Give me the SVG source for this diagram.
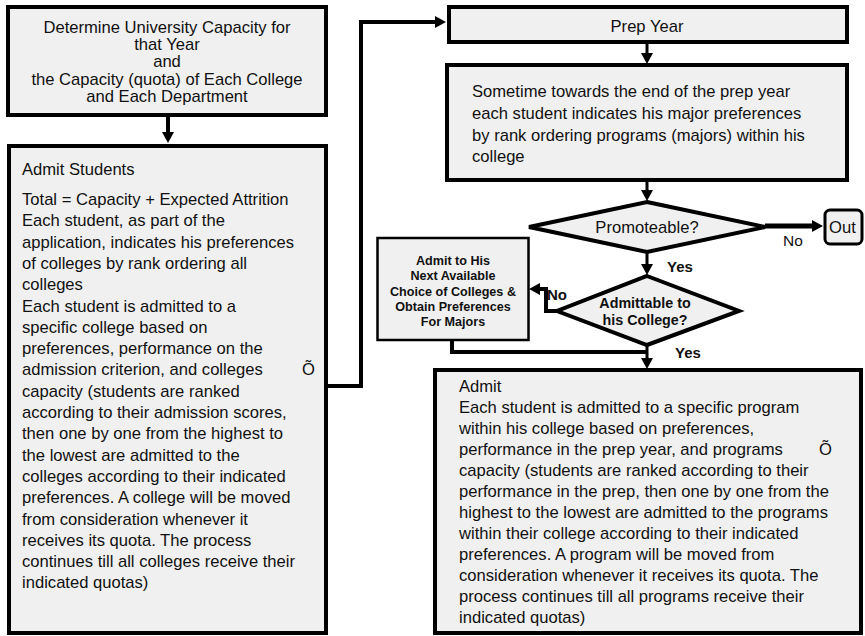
<svg xmlns="http://www.w3.org/2000/svg" width="865" height="636" viewBox="0 0 865 636">
<defs>
<style>
.box{fill:#f0f0f0;stroke:#000;stroke-width:4}
.thin{fill:#f0f0f0;stroke:#000;stroke-width:2.5}
.t{font-family:"Liberation Sans",Arial,Helvetica,sans-serif;font-size:16.6px;fill:#111}
.c{text-anchor:middle}
.b{font-family:"Liberation Sans",Arial,Helvetica,sans-serif;font-weight:bold;fill:#111}
.ln{fill:none;stroke:#000;stroke-width:4}
.ln3{fill:none;stroke:#000;stroke-width:3}
</style>
<marker id="ah" markerUnits="userSpaceOnUse" markerWidth="11" markerHeight="12" refX="1" refY="6" orient="auto">
<path d="M0,0 L11,6 L0,12 z" fill="#000"/>
</marker>
</defs>

<g id="connectors">
<path class="ln" d="M168,117 V133" marker-end="url(#ah)"/>
<path class="ln" d="M326,386 H361 V22 H436" marker-end="url(#ah)"/>
<path class="ln3" d="M647,44 V54" marker-end="url(#ah)"/>
<path class="ln3" d="M647,182 V191" marker-end="url(#ah)"/>
<path class="ln" style="stroke-width:5" d="M765,226 H813" marker-end="url(#ah)"/>
<path class="ln3" d="M647,252 V265" marker-end="url(#ah)"/>
<path class="ln" d="M557,311 H546 V289 H539" marker-end="url(#ah)"/>
<path class="ln" d="M452,340 V352 H647"/>
<path class="ln3" d="M647,345 V359" marker-end="url(#ah)"/>
<text class="t" x="783" y="246" style="font-size:15.5px">No</text>
<text class="b" x="667" y="272" style="font-size:15px">Yes</text>
<text class="b" x="547" y="300" style="font-size:15px">No</text>
<text class="b" x="675" y="358" style="font-size:15px">Yes</text>
</g>

<g id="n-capacity">
<rect class="box" x="8" y="7" width="318" height="108"/>
<text class="t c" x="167" y="33">Determine University Capacity for</text>
<text class="t c" x="167" y="50">that Year</text>
<text class="t c" x="167" y="67">and</text>
<text class="t c" x="167" y="85">the Capacity (quota) of Each College</text>
<text class="t c" x="167" y="102">and Each Department</text>
</g>

<g id="n-admit-students">
<rect class="box" x="9" y="146" width="317" height="487"/>
<text class="t" x="22" y="175">Admit Students</text>
<text class="t" x="22" y="205">Total = Capacity + Expected Attrition</text>
<text class="t" x="22" y="226.3">Each student, as part of the</text>
<text class="t" x="22" y="247.6">application, indicates his preferences</text>
<text class="t" x="22" y="268.9">of colleges by rank ordering all</text>
<text class="t" x="22" y="290.2">colleges</text>
<text class="t" x="22" y="311.5">Each student is admitted to a</text>
<text class="t" x="22" y="332.8">specific college based on</text>
<text class="t" x="22" y="354.1">preferences, performance on the</text>
<text class="t" x="22" y="375.4">admission criterion, and colleges</text>
<text class="t" x="302" y="375.4">Õ</text>
<text class="t" x="22" y="396.7">capacity (students are ranked</text>
<text class="t" x="22" y="418">according to their admission scores,</text>
<text class="t" x="22" y="439.3">then one by one from the highest to</text>
<text class="t" x="22" y="460.6">the lowest are admitted to the</text>
<text class="t" x="22" y="481.9">colleges according to their indicated</text>
<text class="t" x="22" y="503.2">preferences. A college will be moved</text>
<text class="t" x="22" y="524.5">from consideration whenever it</text>
<text class="t" x="22" y="545.8">receives its quota. The process</text>
<text class="t" x="22" y="567.1">continues till all colleges receive their</text>
<text class="t" x="22" y="588.4">indicated quotas)</text>
</g>

<g id="n-prep">
<rect class="box" x="449" y="7" width="398" height="35"/>
<text class="t c" x="647" y="32">Prep Year</text>
</g>

<g id="n-sometime">
<rect class="box" x="447" y="65" width="400" height="115"/>
<text class="t" x="472" y="97">Sometime towards the end of the prep year</text>
<text class="t" x="472" y="119">each student indicates his major preferences</text>
<text class="t" x="472" y="140.5">by rank ordering programs (majors) within his</text>
<text class="t" x="472" y="162">college</text>
</g>

<g id="n-promoteable">
<polygon class="box" points="647,202 765,227 647,252 529,227"/>
<text class="t c" x="647" y="233">Promoteable?</text>
</g>

<g id="n-out">
<rect class="box" style="stroke-width:3" x="825" y="210" width="37" height="34" rx="5"/>
<text class="t" x="829" y="233">Out</text>
</g>

<g id="n-admittable">
<polygon class="box" points="647,276 739,311 647,345 557,311"/>
<text class="b c" x="645" y="308" style="font-size:14.3px">Admittable to</text>
<text class="b c" x="645" y="325" style="font-size:14.3px">his College?</text>
</g>

<g id="n-next-choice">
<rect class="thin" x="377.5" y="238" width="151" height="102"/>
<text class="b c" x="453" y="265" style="font-size:12.6px">Admit to His</text>
<text class="b c" x="453" y="280.3" style="font-size:12.6px">Next Available</text>
<text class="b c" x="453" y="295.6" style="font-size:12.6px">Choice of Colleges &amp;</text>
<text class="b c" x="453" y="310.9" style="font-size:12.6px">Obtain Preferences</text>
<text class="b c" x="453" y="326.2" style="font-size:12.6px">For Majors</text>
</g>

<g id="n-admit">
<rect class="box" x="435" y="370" width="426" height="263"/>
<text class="t" x="459" y="392">Admit</text>
<text class="t" x="459" y="413">Each student is admitted to a specific program</text>
<text class="t" x="459" y="434">within his college based on preferences,</text>
<text class="t" x="459" y="455">performance in the prep year, and programs</text>
<text class="t" x="819" y="455">Õ</text>
<text class="t" x="459" y="476">capacity (students are ranked according to their</text>
<text class="t" x="459" y="497">performance in the prep, then one by one from the</text>
<text class="t" x="459" y="518">highest to the lowest are admitted to the programs</text>
<text class="t" x="459" y="539">within their college according to their indicated</text>
<text class="t" x="459" y="560">preferences. A program will be moved from</text>
<text class="t" x="459" y="581">consideration whenever it receives its quota. The</text>
<text class="t" x="459" y="602">process continues till all programs receive their</text>
<text class="t" x="459" y="623">indicated quotas)</text>
</g>
</svg>
